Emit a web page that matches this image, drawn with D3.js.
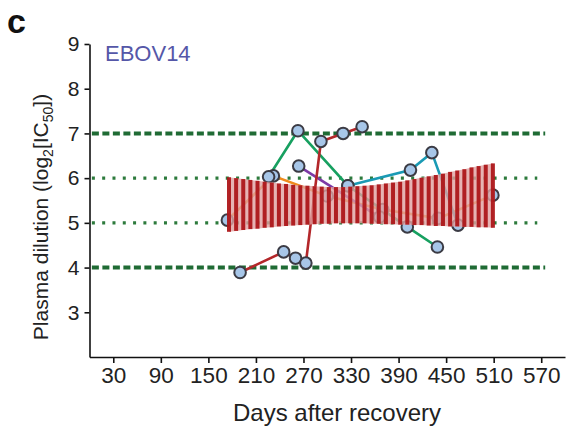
<!DOCTYPE html>
<html>
<head>
<meta charset="utf-8">
<script src="https://cdn.jsdelivr.net/npm/d3@7"></script>
<style>
  html, body { margin: 0; padding: 0; background: #fff; }
  svg { display: block; font-family: "Liberation Sans", Arial, Helvetica, sans-serif; }
</style>
</head>
<body>
<svg id="chart" width="569" height="432"></svg>
<script>
// ---------------- data ----------------
const xTicks = [30, 90, 150, 210, 270, 330, 390, 450, 510, 570];
const yTicks = [3, 4, 5, 6, 7, 8, 9];
const dashedLevels = [7, 4];
const dottedLevels = [6, 5];

// individual donor trajectories: [day, log2 IC50]
const seriesRed    = [[190, 3.89], [245, 4.35], [260, 4.21], [273, 4.10], [292, 6.82], [320, 7.00], [344, 7.15]];
const seriesGreen  = [[226, 6.03], [263, 7.06], [326, 5.83], [401, 4.91], [439, 4.46]];
const seriesPurple = [[264, 6.27], [366, 5.13]];
const seriesCyan   = [[326, 5.83], [405, 6.18], [432, 6.57], [465, 4.95]];
const seriesOrange = [[174, 5.06], [232, 6.05], [300, 5.60], [370, 5.30], [440, 5.10], [509, 5.62]];

// regression confidence band drawn as vertical bars
const bandDays  = [176,185,194,203,212,221,230,239,248,257,266,275,284,293,302,311,320,329,338,347,356,365,374,383,392,401,410,419,428,437,446,455,464,473,482,491,500,509];
const bandUpper = [6.02,6.00,5.98,5.96,5.94,5.92,5.90,5.88,5.87,5.85,5.84,5.83,5.82,5.81,5.80,5.80,5.80,5.81,5.82,5.83,5.84,5.86,5.88,5.90,5.92,5.95,5.98,6.01,6.04,6.07,6.10,6.14,6.17,6.20,6.24,6.27,6.30,6.33];
const bandLower = [4.80,4.82,4.84,4.86,4.87,4.89,4.90,4.92,4.93,4.94,4.95,4.96,4.97,4.98,4.98,4.99,4.99,4.99,4.99,4.99,4.98,4.98,4.97,4.97,4.96,4.96,4.95,4.95,4.94,4.93,4.93,4.92,4.92,4.91,4.91,4.90,4.90,4.89];

// ---------------- chart ----------------
const svg = d3.select("#chart");
const x = d3.scaleLinear().domain([0, 600]).range([89.5, 565]);
const y = d3.scaleLinear().domain([2, 9]).range([357, 44]);

// reference lines
const refG = svg.append("g");
refG.selectAll("line.dash").data(dashedLevels).join("line")
  .attr("x1", x(3)).attr("x2", x(575))
  .attr("y1", d => y(d)).attr("y2", d => y(d))
  .attr("stroke", "#1f6b34").attr("stroke-width", 4)
  .attr("stroke-dasharray", "7,3.5");
refG.selectAll("line.dot").data(dottedLevels).join("line")
  .attr("x1", x(3)).attr("x2", x(565))
  .attr("y1", d => y(d)).attr("y2", d => y(d))
  .attr("stroke", "#2c7a3c").attr("stroke-width", 3.2)
  .attr("stroke-dasharray", "3,7.3");

// series
const line = d3.line().x(d => x(d[0])).y(d => y(d[1]));
const series = [
  {data: seriesOrange, color: "#f08a1c"},
  {data: seriesPurple, color: "#7d3aa6"},
  {data: seriesGreen,  color: "#17a060"},
  {data: seriesCyan,   color: "#1a9ab4"},
  {data: seriesRed,    color: "#b3272a"}
];
const sG = svg.append("g");
series.forEach(s => {
  sG.append("path").datum(s.data).attr("d", line)
    .attr("fill", "none").attr("stroke", s.color).attr("stroke-width", 2.6);
});
series.forEach(s => {
  sG.selectAll(null).data(s.data).join("circle")
    .attr("cx", d => x(d[0])).attr("cy", d => y(d[1])).attr("r", 5.8)
    .attr("fill", "#a7c6e8").attr("stroke", "#3b3b44").attr("stroke-width", 2);
});

// confidence band
const band = bandDays.map((d, i) => ({d, lo: bandLower[i], hi: bandUpper[i]}));
const bandG = svg.append("g");
bandG.append("path").datum(band)
  .attr("d", d3.area().x(b => x(b.d)).y0(b => y(b.lo)).y1(b => y(b.hi)))
  .attr("fill", "#e0a0a0").attr("opacity", 0.8);
bandG.selectAll("line").data(band).join("line")
  .attr("x1", b => x(b.d)).attr("x2", b => x(b.d))
  .attr("y1", b => y(b.lo)).attr("y2", b => y(b.hi))
  .attr("stroke", "#ae181b").attr("stroke-width", 4).attr("opacity", 0.95);

// axes
const yAxis = d3.axisLeft(y).tickValues(yTicks).tickFormat(d3.format("d"))
  .tickSize(5).tickSizeOuter(0).tickPadding(5);
const xAxis = d3.axisBottom(x).tickValues(xTicks).tickFormat(d3.format("d"))
  .tickSize(6).tickSizeOuter(0).tickPadding(4);
const yg = svg.append("g").attr("transform", `translate(${x(0)},0)`).call(yAxis);
const xg = svg.append("g").attr("transform", `translate(0,${y(2)})`).call(xAxis);
[yg, xg].forEach(g => {
  g.select(".domain").attr("stroke", "#111").attr("stroke-width", 1.6);
  g.selectAll(".tick line").attr("stroke", "#111").attr("stroke-width", 1.6);
  g.selectAll(".tick text").attr("fill", "#222").attr("font-family", "Liberation Sans, Arial, sans-serif");
});
yg.selectAll(".tick text").attr("font-size", 21);
xg.selectAll(".tick text").attr("font-size", 22.5);

// labels
svg.append("text").attr("x", 337).attr("y", 421).attr("text-anchor", "middle")
  .attr("font-size", 24).attr("fill", "#222").text("Days after recovery");

const yl = svg.append("text").attr("transform", "translate(48,217) rotate(-90)")
  .attr("text-anchor", "middle").attr("font-size", 21).attr("fill", "#222");
yl.append("tspan").text("Plasma dilution (log");
yl.append("tspan").attr("font-size", 14).attr("dy", 5).text("2");
yl.append("tspan").attr("dy", -5).text("[IC");
yl.append("tspan").attr("font-size", 14).attr("dy", 5).text("50");
yl.append("tspan").attr("dy", -5).text("])");

svg.append("text").attr("x", 105).attr("y", 61).attr("font-size", 22)
  .attr("fill", "#5557a8").text("EBOV14");

svg.append("text").attr("x", 7).attr("y", 33).attr("font-size", 34)
  .attr("font-weight", "bold").attr("fill", "#111").text("c");
</script>
</body>
</html>
